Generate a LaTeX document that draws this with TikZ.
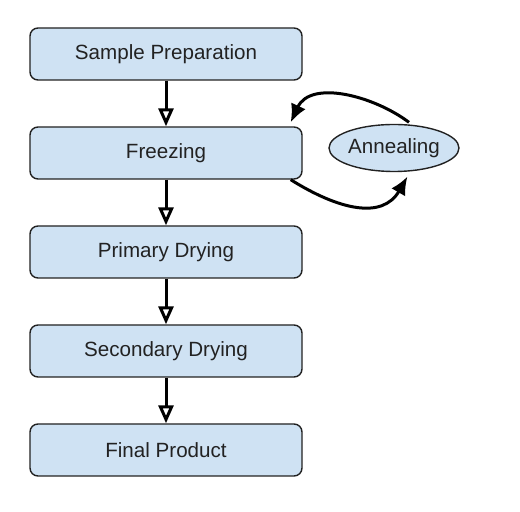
\documentclass[tikz,border=0pt]{standalone}
\usepackage{fontspec}
\setmainfont{Liberation Sans}
\usetikzlibrary{positioning,arrows.meta,shapes.geometric}
\definecolor{boxblue}{HTML}{CFE2F3}
\definecolor{inkgray}{HTML}{222222}

\begin{document}
\begin{tikzpicture}[x=0.5pt,y=-0.5pt,node distance=22.8pt]
\tikzstyle{stage}=[draw=inkgray,fill=boxblue,rectangle,rounded corners=4pt,line width=0.7pt,minimum width=136pt,minimum height=26pt,text=inkgray,font=\fontsize{10.3}{12}\selectfont]
\tikzstyle{loopnode}=[draw=inkgray,fill=boxblue,ellipse,line width=0.7pt,minimum width=65pt,minimum height=23.5pt,inner sep=0pt,text=inkgray,font=\fontsize{10.3}{12}\selectfont]
\tikzstyle{flow}=[line width=1.5pt,-{Triangle[open,length=9pt,width=7.5pt]}]
\tikzstyle{loop}=[line width=1.5pt,-{Latex[length=9pt,width=8pt]}]
\useasboundingbox (0,0) rectangle (520,512);
\node[stage] (prep) at (166,54) {Sample Preparation};
\node[stage,below=of prep] (freeze) {Freezing};
\node[stage,below=of freeze] (primary) {Primary Drying};
\node[stage,below=of primary] (secondary) {Secondary Drying};
\node[stage,below=of secondary] (final) {Final Product};
\node[loopnode] (anneal) at (394,148) {Annealing};
% main line
\draw[flow] (prep) -- (freeze);
\draw[flow] (freeze) -- (primary);
\draw[flow] (primary) -- (secondary);
\draw[flow] (secondary) -- (final);
% annealing loop
\draw[loop,shorten <=2pt] (anneal.52) to[out=143,in=65] ([xshift=-6pt,yshift=2pt]freeze.north east);
\draw[loop,shorten >=3pt] ([xshift=-6pt]freeze.south east) to[out=-32,in=-120,looseness=1.2] (anneal.-55);
\end{tikzpicture}
\end{document}
